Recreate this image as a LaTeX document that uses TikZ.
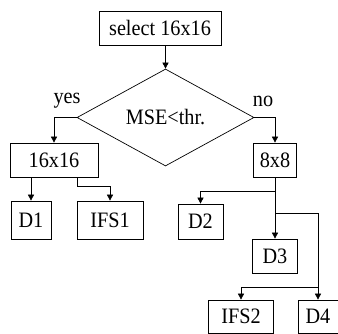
\documentclass[tikz,border=0pt]{standalone}
\usepackage{fontspec}
\setmainfont[FakeStretch=0.92]{Liberation Serif}
\usetikzlibrary{shapes.geometric,arrows.meta}

\tikzset{
  boxnode/.style={draw, line width=0.7pt, inner sep=0pt, rectangle,
    font=\fontsize{22}{22}\selectfont},
  decision/.style={draw, line width=0.7pt, inner sep=0pt, diamond,
    minimum width=177pt, minimum height=97pt,
    font=\fontsize{22}{22}\selectfont},
  lbl/.style={inner sep=0pt, font=\fontsize{22}{22}\selectfont},
  arr/.style={line width=0.7pt, -{Triangle[length=6pt,width=6pt]}}
}

\begin{document}
\begin{tikzpicture}[x=1pt,y=-1pt]
  \useasboundingbox (0,0) rectangle (338,334);

  % boxes (centre, size)
  \node[boxnode, minimum width=122pt, minimum height=34pt] (sel) at (160,28) {select 16x16};
  \node[decision] (dia) at (165.5,117.5) {MSE<thr.};
  \node[boxnode, minimum width=88pt, minimum height=34pt] (b16) at (54,160) {16x16};
  \node[boxnode, minimum width=43pt, minimum height=34pt] (b8) at (275,160) {8x8};
  \node[boxnode, minimum width=40pt, minimum height=38pt] (d1) at (31,220) {D1};
  \node[boxnode, minimum width=66pt, minimum height=38pt] (ifs1) at (110,220) {IFS1};
  \node[boxnode, minimum width=45pt, minimum height=35pt] (d2) at (200.5,221.5) {D2};
  \node[boxnode, minimum width=45pt, minimum height=34pt] (d3) at (275,256) {D3};
  \node[boxnode, minimum width=65pt, minimum height=33pt] (ifs2) at (241,316.5) {IFS2};
  \node[boxnode, minimum width=40pt, minimum height=33pt] (d4) at (318,316.5) {D4};

  % branch labels
  \node[lbl] (yes) at (67,101) {yes};
  \node[lbl] (no) at (263,101) {no};

  % junction points
  \coordinate (j16) at (77,186);
  \coordinate (j2) at (275,191);
  \coordinate (j4) at (275,213);
  \coordinate (j5) at (318,287);

  % connectors
  \draw[arr] (sel.south -| dia.north) -- (dia.north);
  \draw[arr] (dia.west) -| (b16.north);
  \draw[arr] (dia.east) -| (b8.north);
  \draw[arr] (b16.south -| d1.north) -- (d1.north);
  \draw[arr] (b16.south -| j16) -- (j16) -| (ifs1.north);
  \draw[arr] (b8.south) -- (d3.north);
  \draw[arr] (j2) -| (d2.north);
  \draw[arr] (j4) -| (d4.north);
  \draw[arr] (j5) -| (ifs2.north);
\end{tikzpicture}
\end{document}
